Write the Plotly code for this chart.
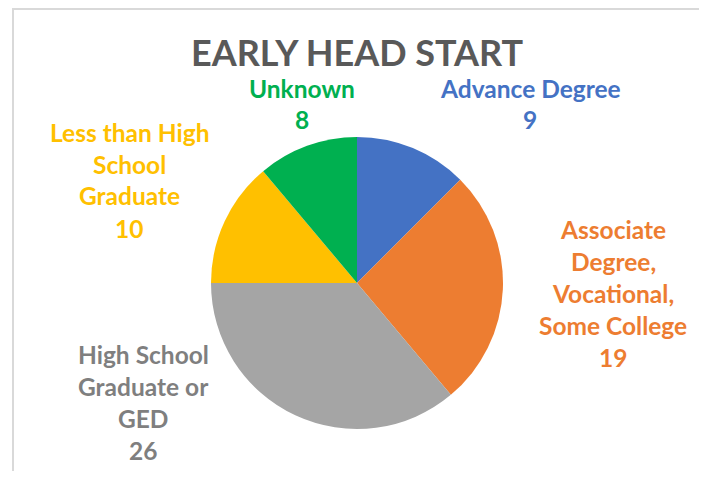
import plotly.graph_objects as go

categories = ["Advance Degree", "Associate Degree, Vocational, Some College",
              "High School Graduate or GED", "Less than High School Graduate", "Unknown"]
values = [9, 19, 26, 10, 8]
colors = ["#4472C4", "#ED7D31", "#A5A5A5", "#FFC000", "#00B050"]
label_colors = ["#4472C4", "#ED7D31", "#7F7F7F", "#FFC000", "#00B050"]
label_lines = [
    ["Advance Degree"],
    ["Associate", "Degree,", "Vocational,", "Some College"],
    ["High School", "Graduate or", "GED"],
    ["Less than High", "School", "Graduate"],
    ["Unknown"],
]
title_text = "EARLY HEAD START"

OFF = 8  # page body margin
W, H = 707 - OFF, 479 - 2 * OFF
FONT = "Lato"


def px(x):
    return (x - OFF) / W


def py(y):
    return 1 - (y - OFF) / H


fig = go.Figure(go.Pie(
    labels=categories, values=values, sort=False, direction="clockwise",
    rotation=0, marker=dict(colors=colors, line=dict(width=0)),
    textinfo="none", hoverinfo="label+value", showlegend=False,
    domain=dict(x=[px(211), px(503)], y=[py(429), py(137)]),
))

# label anchor (center x, first line y) in pixels of the window
anchors = [(530, 88), (613, 229), (143, 354), (129, 132), (302, 88)]
line_h = 32
annotations = []
for i, (cx, y0) in enumerate(anchors):
    lines = label_lines[i] + [str(values[i])]
    for j, t in enumerate(lines):
        annotations.append(dict(
            text="<b>%s</b>" % t, x=px(cx), y=py(y0 + j * line_h),
            xref="paper", yref="paper", xanchor="center", yanchor="middle",
            showarrow=False, font=dict(family=FONT, size=24.5, color=label_colors[i]),
        ))

annotations.append(dict(
    text="<b>%s</b>" % title_text, x=px(357), y=py(52), xref="paper", yref="paper",
    xanchor="center", yanchor="middle", showarrow=False,
    font=dict(family=FONT, size=36, color="#595959"),
))

border = dict(color="#D9D9D9", width=2)
fig.update_layout(
    width=W, height=H, margin=dict(l=0, r=0, t=0, b=0),
    paper_bgcolor="white", plot_bgcolor="white",
    annotations=annotations,
    shapes=[
        dict(type="line", xref="paper", yref="paper", x0=px(13), x1=px(13),
             y0=0, y1=1, line=border),
        dict(type="line", xref="paper", yref="paper", x0=px(700), x1=px(700),
             y0=0, y1=1, line=border),
        dict(type="line", xref="paper", yref="paper", x0=px(13), x1=px(700),
             y0=py(9), y1=py(9), line=border),
    ],
)

fig.write_html("out.html")
